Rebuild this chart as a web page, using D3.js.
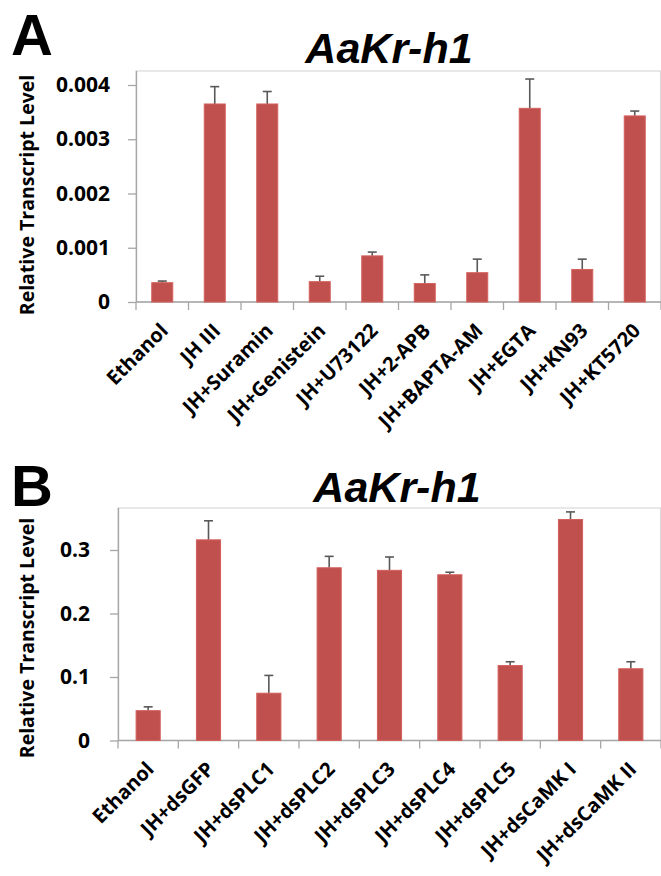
<!DOCTYPE html>
<html lang="en">
<head>
    <meta charset="UTF-8">
    <title>AaKr-h1 transcript levels</title>
    <script src="https://d3js.org/d3.v7.min.js"></script>
    <style>
        body { margin: 0; background: #fff; }
        svg { display: block; }
    </style>
</head>
<body>
<svg width="661" height="876"></svg>

<script>
    // panel A - inhibitors
    var catsA = ["Ethanol", "JH III", "JH+Suramin", "JH+Genistein", "JH+U73122", "JH+2-APB",
        "JH+BAPTA-AM", "JH+EGTA", "JH+KN93", "JH+KT5720"];
    var valsA = [0.000356, 0.00365, 0.00365, 0.000375, 0.00085, 0.00034, 0.00054, 0.00357, 0.00060, 0.00343];
    var errA = [0.00003, 0.00032, 0.00023, 0.00010, 0.00007, 0.00016, 0.00025, 0.00054, 0.00019, 0.00009];
    var ticksA = [0, 0.001, 0.002, 0.003, 0.004];

    // panel B - RNAi
    var catsB = ["Ethanol", "JH+dsGFP", "JH+dsPLC1", "JH+dsPLC2", "JH+dsPLC3", "JH+dsPLC4",
        "JH+dsPLC5", "JH+dsCaMK I", "JH+dsCaMK II"];
    var valsB = [0.047, 0.316, 0.0745, 0.272, 0.268, 0.261, 0.118, 0.348, 0.113];
    var errB = [0.006, 0.030, 0.028, 0.018, 0.021, 0.004, 0.006, 0.012, 0.011];
    var ticksB = [0, 0.1, 0.2, 0.3];

    var svg = d3.select("svg");
    var barColor = "#c0504d";

    function drawPanel(o) {
        var g = svg.append("g");

        var x = d3.scaleBand()
            .domain(o.cats)
            .range([o.left, o.right])
            .paddingInner(0.6)
            .paddingOuter(0.3);

        var y = d3.scaleLinear()
            .domain([0, o.ticks[o.ticks.length - 1]])
            .range([o.zero, o.topTick]);

        // plot area border
        g.append("rect")
            .attr("x", o.left)
            .attr("y", o.frameTop)
            .attr("width", o.right - o.left - 0.5)
            .attr("height", o.zero - o.frameTop)
            .attr("fill", "none")
            .attr("stroke", "#d9d9d9")
            .attr("stroke-width", 1.2);

        // panel letter + title
        g.append("text")
            .attr("x", o.letterX)
            .attr("y", o.letterY)
            .attr("font-family", "Liberation Sans, Arial, sans-serif")
            .attr("font-weight", "bold")
            .attr("font-size", 58)
            .text(o.letter);

        g.append("text")
            .attr("x", o.titleX)
            .attr("y", o.titleY)
            .attr("text-anchor", "middle")
            .attr("font-family", "Liberation Sans, Arial, sans-serif")
            .attr("font-weight", "bold")
            .attr("font-style", "italic")
            .attr("font-size", 43)
            .text("AaKr-h1");

        // y axis
        var yAxis = g.append("g")
            .attr("transform", "translate(" + o.left + ",0)")
            .call(d3.axisLeft(y)
                .tickValues(o.ticks)
                .tickSize(8)
                .tickPadding(o.tickPad)
                .tickFormat(function (d) {
                    return d === 0 ? "0" : d3.format(o.fmt)(d);
                }));
        yAxis.select(".domain").attr("stroke", "#a6a6a6").attr("stroke-width", 1.3)
            .attr("d", "M0.5," + o.zero + "V" + o.frameTop);
        yAxis.selectAll(".tick line").attr("stroke", "#a6a6a6").attr("stroke-width", 1.3);
        yAxis.selectAll(".tick text")
            .attr("fill", "#000")
            .attr("font-family", "Open Sans, sans-serif")
            .attr("font-weight", "bold")
            .attr("font-size", 21);

        g.append("text")
            .attr("transform", "translate(" + o.ytitleX + "," + o.ytitleY + ") rotate(-90)")
            .attr("text-anchor", "middle")
            .attr("font-family", "Open Sans, sans-serif")
            .attr("font-weight", "bold")
            .attr("font-size", 19.5)
            .text("Relative Transcript Level");

        // x axis baseline and boundary ticks
        g.append("line")
            .attr("x1", o.left).attr("x2", o.right)
            .attr("y1", o.zero).attr("y2", o.zero)
            .attr("stroke", "#a6a6a6")
            .attr("stroke-width", 1.3);

        g.selectAll(".xtick")
            .data(d3.range(o.cats.length + 1))
            .enter().append("line")
            .attr("class", "xtick")
            .attr("x1", function (i) { return o.left + i * x.step(); })
            .attr("x2", function (i) { return o.left + i * x.step(); })
            .attr("y1", o.zero)
            .attr("y2", o.zero + 8)
            .attr("stroke", "#a6a6a6")
            .attr("stroke-width", 1.3);

        // error bars (upper only)
        var eb = g.selectAll(".err")
            .data(o.vals)
            .enter().append("g")
            .attr("class", "err")
            .attr("stroke", "#595959")
            .attr("stroke-width", 1.6);

        eb.append("line")
            .attr("x1", function (d, i) { return x(o.cats[i]) + x.bandwidth() / 2; })
            .attr("x2", function (d, i) { return x(o.cats[i]) + x.bandwidth() / 2; })
            .attr("y1", function (d) { return y(d); })
            .attr("y2", function (d, i) { return y(d + o.errs[i]); });

        eb.append("line")
            .attr("x1", function (d, i) { return x(o.cats[i]) + x.bandwidth() / 2 - 4.5; })
            .attr("x2", function (d, i) { return x(o.cats[i]) + x.bandwidth() / 2 + 4.5; })
            .attr("y1", function (d, i) { return y(d + o.errs[i]); })
            .attr("y2", function (d, i) { return y(d + o.errs[i]); });

        // bars
        g.selectAll(".bar")
            .data(o.vals)
            .enter().append("rect")
            .attr("class", "bar")
            .attr("x", function (d, i) { return x(o.cats[i]); })
            .attr("y", function (d) { return y(d); })
            .attr("width", x.bandwidth())
            .attr("height", function (d) { return o.zero - y(d); })
            .attr("fill", barColor)
            .attr("stroke", "#d4605c")
            .attr("stroke-width", 1);

        // rotated category labels
        g.selectAll(".xlab")
            .data(o.cats)
            .enter().append("text")
            .attr("class", "xlab")
            .attr("transform", function (d) {
                return "translate(" + (x(d) + x.bandwidth() / 2 + 2) + "," + (o.zero + 25) + ") rotate(-45)";
            })
            .attr("text-anchor", "end")
            .attr("dy", "0.35em")
            .attr("font-family", "Open Sans, sans-serif")
            .attr("font-weight", "bold")
            .attr("font-size", 20)
            .text(function (d) { return d; });
    }

    drawPanel({
        cats: catsA, vals: valsA, errs: errA, ticks: ticksA, fmt: ".3f",
        left: 136, right: 661, zero: 302, topTick: 85, frameTop: 71, tickPad: 18,
        letter: "A", letterX: 11, letterY: 55,
        titleX: 389, titleY: 63,
        ytitleX: 34, ytitleY: 195
    });

    drawPanel({
        cats: catsB, vals: valsB, errs: errB, ticks: ticksB, fmt: ".1f",
        left: 118, right: 661, zero: 740.5, topTick: 550, frameTop: 508, tickPad: 20,
        letter: "B", letterX: 11, letterY: 506,
        titleX: 397, titleY: 502,
        ytitleX: 34, ytitleY: 638
    });
</script>

</body>

</html>
